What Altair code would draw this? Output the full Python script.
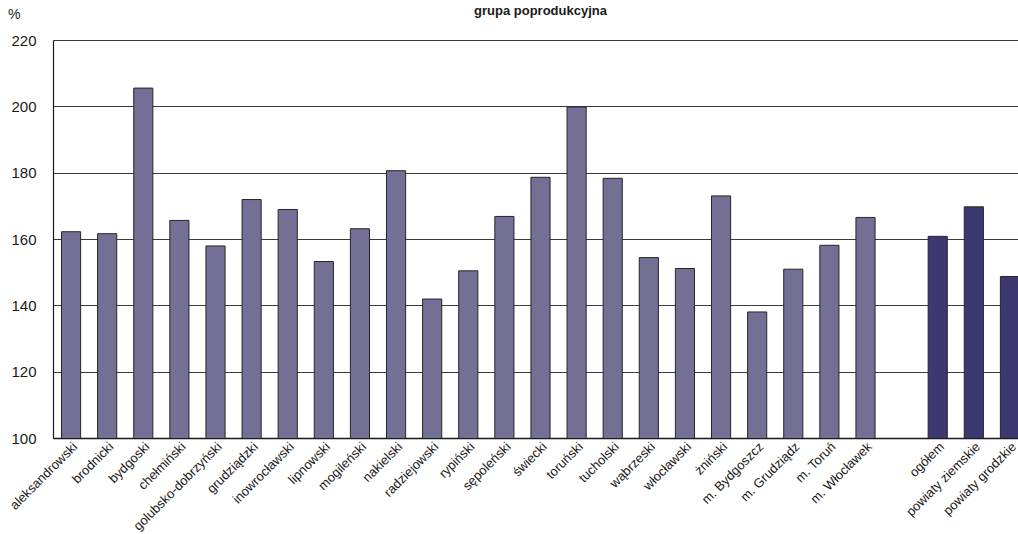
import altair as alt
import pandas as pd

# Powiaty (districts and cities) and their values, %
districts = [
    "aleksandrowski", "brodnicki", "bydgoski", "chełmiński", "golubsko-dobrzyński",
    "grudziądzki", "inowrocławski", "lipnowski", "mogileński", "nakielski",
    "radziejowski", "rypiński", "sępoleński", "świecki", "toruński", "tucholski",
    "wąbrzeski", "włocławski", "żniński", "m. Bydgoszcz", "m. Grudziądz",
    "m. Toruń", "m. Włocławek",
]
district_values = [
    162.2, 161.6, 205.5, 165.6, 157.9,
    171.9, 168.9, 153.2, 163.1, 180.6,
    141.9, 150.4, 166.8, 178.6, 199.8, 178.3,
    154.4, 151.1, 173.0, 138.0, 150.9,
    158.1, 166.5,
]

# Aggregates for the voivodeship
summaries = ["ogółem", "powiaty ziemskie", "powiaty grodzkie"]
summary_values = [160.8, 169.7, 148.7]

title_text = "grupa poprodukcyjna"
unit_text = "%"

gap = " "  # empty slot separating districts from aggregates
slots = districts + [gap] + summaries

df = pd.DataFrame({
    "name": districts + summaries,
    "value": district_values + summary_values,
    "group": ["powiat"] * len(districts) + ["razem"] * len(summaries),
})

FONT = "Liberation Sans"
PLOT_W = 965
PLOT_H = 398
BAND_RANGE = 975  # the band range runs slightly past the visible plot edge

bars = alt.Chart(df).mark_bar(
    stroke="#262626", strokeWidth=1, clip=True
).encode(
    x=alt.X(
        "name:N",
        sort=slots,
        scale=alt.Scale(domain=slots, range=[0, BAND_RANGE],
                        paddingInner=0.47, paddingOuter=0.235),
        axis=alt.Axis(
            title=None, labelAngle=-45, labelAlign="right", labelBaseline="top",
            labelFont=FONT, labelFontSize=13, labelColor="#1a1a1a",
            labelPadding=2, ticks=False, domainColor="#1a1a1a", domainWidth=1.5,
            labelOverlap=False,
        ),
    ),
    y=alt.Y(
        "value:Q",
        scale=alt.Scale(domain=[100, 220], nice=False, zero=False),
        axis=alt.Axis(
            title=None,
            values=[100, 120, 140, 160, 180, 200, 220],
            labelFont=FONT, labelFontSize=15, labelColor="#1a1a1a",
            labelPadding=17, ticks=False, grid=True, gridColor="#3a3a3a",
            gridWidth=1, domainColor="#1a1a1a", domainWidth=1.2,
        ),
    ),
    color=alt.Color(
        "group:N",
        scale=alt.Scale(domain=["powiat", "razem"], range=["#746F95", "#3E3870"]),
        legend=None,
    ),
)

# Chart heading, centred over the band range
heading = alt.Chart(pd.DataFrame({"t": [title_text]})).mark_text(
    font=FONT, fontSize=13, fontWeight="bold", color="#1a1a1a",
    align="center", baseline="alphabetic",
).encode(text="t:N", x=alt.value(BAND_RANGE / 2), y=alt.value(-25))

# Unit label above the value axis
unit = alt.Chart(pd.DataFrame({"t": [unit_text]})).mark_text(
    font=FONT, fontSize=14, color="#1a1a1a", align="left", baseline="alphabetic",
).encode(text="t:N", x=alt.value(-45), y=alt.value(-21))

chart = alt.layer(bars, heading, unit).properties(
    width=PLOT_W,
    height=PLOT_H,
    autosize=alt.AutoSizeParams(type="none"),
    padding={"left": 53, "top": 40, "right": 0, "bottom": 96},
).configure_view(stroke=None).configure(background="white")

chart.save("out.html", embed_options={"renderer": "svg", "actions": False})
